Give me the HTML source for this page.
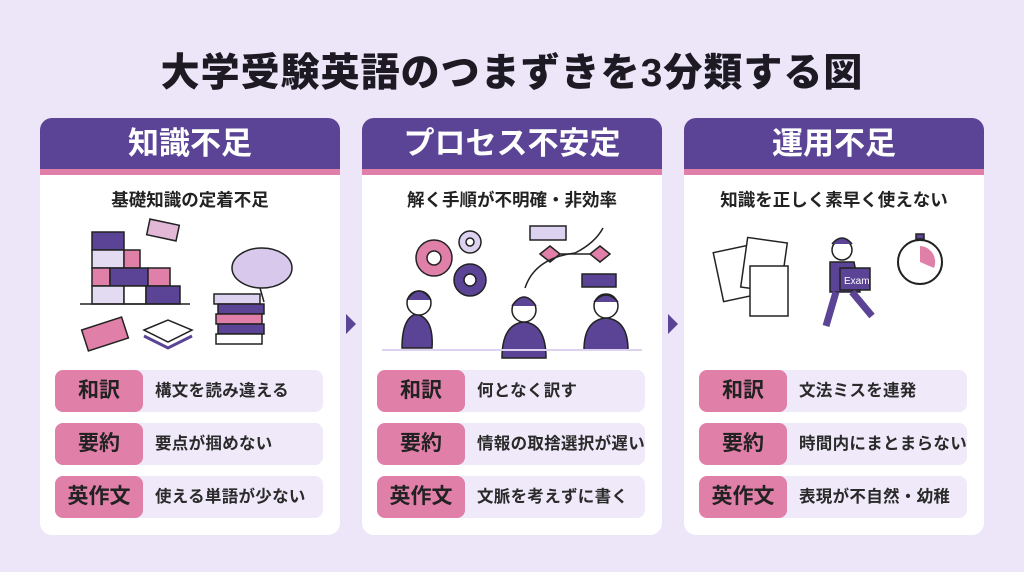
<!DOCTYPE html>
<html><head><meta charset="utf-8"><style>
*{margin:0;padding:0;box-sizing:border-box}
body{width:1024px;height:572px;background:#ece6f8;font-family:"Liberation Sans","Noto Sans CJK JP",sans-serif;position:relative;overflow:hidden}
h1{position:absolute;top:42px;left:0;width:1024px;text-align:center;font-size:39px;font-weight:900;color:#1d1a24;letter-spacing:1px}
.card{position:absolute;top:118px;width:300px;height:417px;background:#fff;border-radius:12px;overflow:hidden}
.hd{background:#5b4495;color:#fff;font-size:31px;font-weight:700;text-align:center;line-height:51px;border-bottom:6px solid #e07fa8;height:57px}
.sub{text-align:center;font-size:17.5px;font-weight:700;color:#222;margin-top:12px}
.row{position:absolute;left:15px;width:268px;height:42px;background:#efe9f9;border-radius:8px}
.lb{position:absolute;left:0;top:0;width:88px;height:42px;background:#e07fa8;border-radius:8px;text-align:center;line-height:42px;font-size:21px;font-weight:700;color:#222}
.tx{position:absolute;left:100px;top:0;line-height:42px;font-size:16.5px;font-weight:700;color:#2a2a2a;white-space:nowrap;letter-spacing:0.3px}
.ill{position:absolute;left:0;top:100px}
.arr{position:absolute;top:314px;width:0;height:0;border-top:10px solid transparent;border-bottom:10px solid transparent;border-left:10px solid #5b4495}
</style></head><body>
<h1>大学受験英語のつまずきを3分類する図</h1>

<div class="card" style="left:40px">
<div class="hd">知識不足</div>
<div class="sub">基礎知識の定着不足</div>
<svg class="ill" width="300" height="140" stroke="#222" stroke-width="1.5">
<rect x="52" y="14" width="32" height="18" fill="#5b4495"/><rect x="52" y="32" width="32" height="18" fill="#e2dbf2"/><rect x="84" y="32" width="16" height="18" fill="#e07fa8"/><rect x="52" y="50" width="18" height="18" fill="#e07fa8"/><rect x="70" y="50" width="38" height="18" fill="#5b4495"/><rect x="108" y="50" width="22" height="18" fill="#e07fa8"/><rect x="52" y="68" width="32" height="18" fill="#e2dbf2"/><rect x="84" y="68" width="22" height="18" fill="#fff"/><rect x="106" y="68" width="34" height="18" fill="#5b4495"/>
<line x1="40" y1="86" x2="150" y2="86"/>
<rect x="108" y="4" width="30" height="16" fill="#e2b8d6" transform="rotate(12 123 12)"/>
<ellipse cx="222" cy="50" rx="30" ry="20" fill="#d8c8ec"/><path d="M220 70 l4 14" />
<rect x="44" y="105" width="42" height="22" fill="#e07fa8" transform="rotate(-18 65 116)"/>
<path d="M104 112 l24 -10 l24 10 l-24 12 z" fill="#fff"/><path d="M104 118 l24 12 l24 -12" fill="none" stroke="#5b4495" stroke-width="3"/>
<rect x="174" y="76" width="46" height="10" fill="#ddd2f0"/><rect x="178" y="86" width="46" height="10" fill="#5b4495"/><rect x="176" y="96" width="46" height="10" fill="#e07fa8"/><rect x="178" y="106" width="46" height="10" fill="#5b4495"/><rect x="176" y="116" width="46" height="10" fill="#fff"/>
</svg>
<div class="row" style="top:252px"><div class="lb">和訳</div><div class="tx">構文を読み違える</div></div>
<div class="row" style="top:305px"><div class="lb">要約</div><div class="tx">要点が掴めない</div></div>
<div class="row" style="top:358px"><div class="lb">英作文</div><div class="tx">使える単語が少ない</div></div>
</div>

<div class="arr" style="left:346px"></div>

<div class="card" style="left:362px">
<div class="hd">プロセス不安定</div>
<div class="sub">解く手順が不明確・非効率</div>
<svg class="ill" width="300" height="150" stroke="#222" stroke-width="1.5">
<circle cx="72" cy="40" r="18" fill="#e07fa8"/><circle cx="72" cy="40" r="7" fill="#fff"/>
<circle cx="108" cy="24" r="11" fill="#ddd2f0"/><circle cx="108" cy="24" r="4" fill="#fff"/>
<circle cx="108" cy="62" r="16" fill="#5b4495"/><circle cx="108" cy="62" r="6" fill="#fff"/>
<rect x="168" y="8" width="36" height="14" fill="#ddd2f0"/><path d="M178 36 l10 -8 l10 8 l-10 8 z" fill="#e07fa8"/><path d="M228 36 l10 -8 l10 8 l-10 8 z" fill="#e07fa8"/><line x1="198" y1="36" x2="228" y2="36"/><rect x="220" y="56" width="34" height="13" fill="#5b4495"/>
<path d="M163 70 q10 -30 50 -35 q20 -10 28 -25" fill="none"/>
<path d="M40 130 q0 -30 14 -34 q18 4 16 34 z" fill="#5b4495"/><circle cx="57" cy="85" r="12" fill="#fff"/><path d="M45 82 q12 -18 24 0" fill="#5b4495"/>
<path d="M140 140 q0 -34 22 -36 q22 2 22 36 z" fill="#5b4495"/><circle cx="162" cy="92" r="12" fill="#fff"/><path d="M150 88 q12 -18 24 0" fill="#5b4495"/>
<path d="M222 132 q0 -30 22 -32 q22 2 22 32 z" fill="#5b4495"/><circle cx="244" cy="88" r="12" fill="#fff"/><path d="M232 84 q12 -14 24 0" fill="#5b4495"/>
<line x1="20" y1="132" x2="280" y2="132" stroke="#ddd2f0" stroke-width="2"/>
</svg>
<div class="row" style="top:252px"><div class="lb">和訳</div><div class="tx">何となく訳す</div></div>
<div class="row" style="top:305px"><div class="lb">要約</div><div class="tx">情報の取捨選択が遅い</div></div>
<div class="row" style="top:358px"><div class="lb">英作文</div><div class="tx">文脈を考えずに書く</div></div>
</div>

<div class="arr" style="left:668px"></div>

<div class="card" style="left:684px">
<div class="hd">運用不足</div>
<div class="sub">知識を正しく素早く使えない</div>
<svg class="ill" width="300" height="150" stroke="#222" stroke-width="1.5">
<rect x="34" y="30" width="40" height="50" fill="#fff" transform="rotate(-12 54 55)"/><rect x="60" y="22" width="40" height="50" fill="#fff" transform="rotate(8 80 47)"/><rect x="66" y="48" width="38" height="50" fill="#fff"/>
<circle cx="158" cy="32" r="10" fill="#fff"/><path d="M148 26 q10 -12 20 0" fill="#5b4495"/>
<path d="M146 44 l24 0 l6 30 l-30 0 z" fill="#5b4495"/><rect x="156" y="50" width="30" height="22" fill="#5b4495"/><text x="160" y="66" fill="#fff" stroke="none" font-size="10">Exam</text>
<path d="M152 74 l-10 34 M168 74 l20 24" stroke="#5b4495" stroke-width="7"/>
<circle cx="236" cy="44" r="22" fill="#fff" stroke-width="2"/><path d="M236 44 l0 -16 a16 16 0 0 1 14 22 z" fill="#e07fa8" stroke="none"/><rect x="232" y="16" width="8" height="5" fill="#5b4495"/>
</svg>
<div class="row" style="top:252px"><div class="lb">和訳</div><div class="tx">文法ミスを連発</div></div>
<div class="row" style="top:305px"><div class="lb">要約</div><div class="tx">時間内にまとまらない</div></div>
<div class="row" style="top:358px"><div class="lb">英作文</div><div class="tx">表現が不自然・幼稚</div></div>
</div>
</body></html>
